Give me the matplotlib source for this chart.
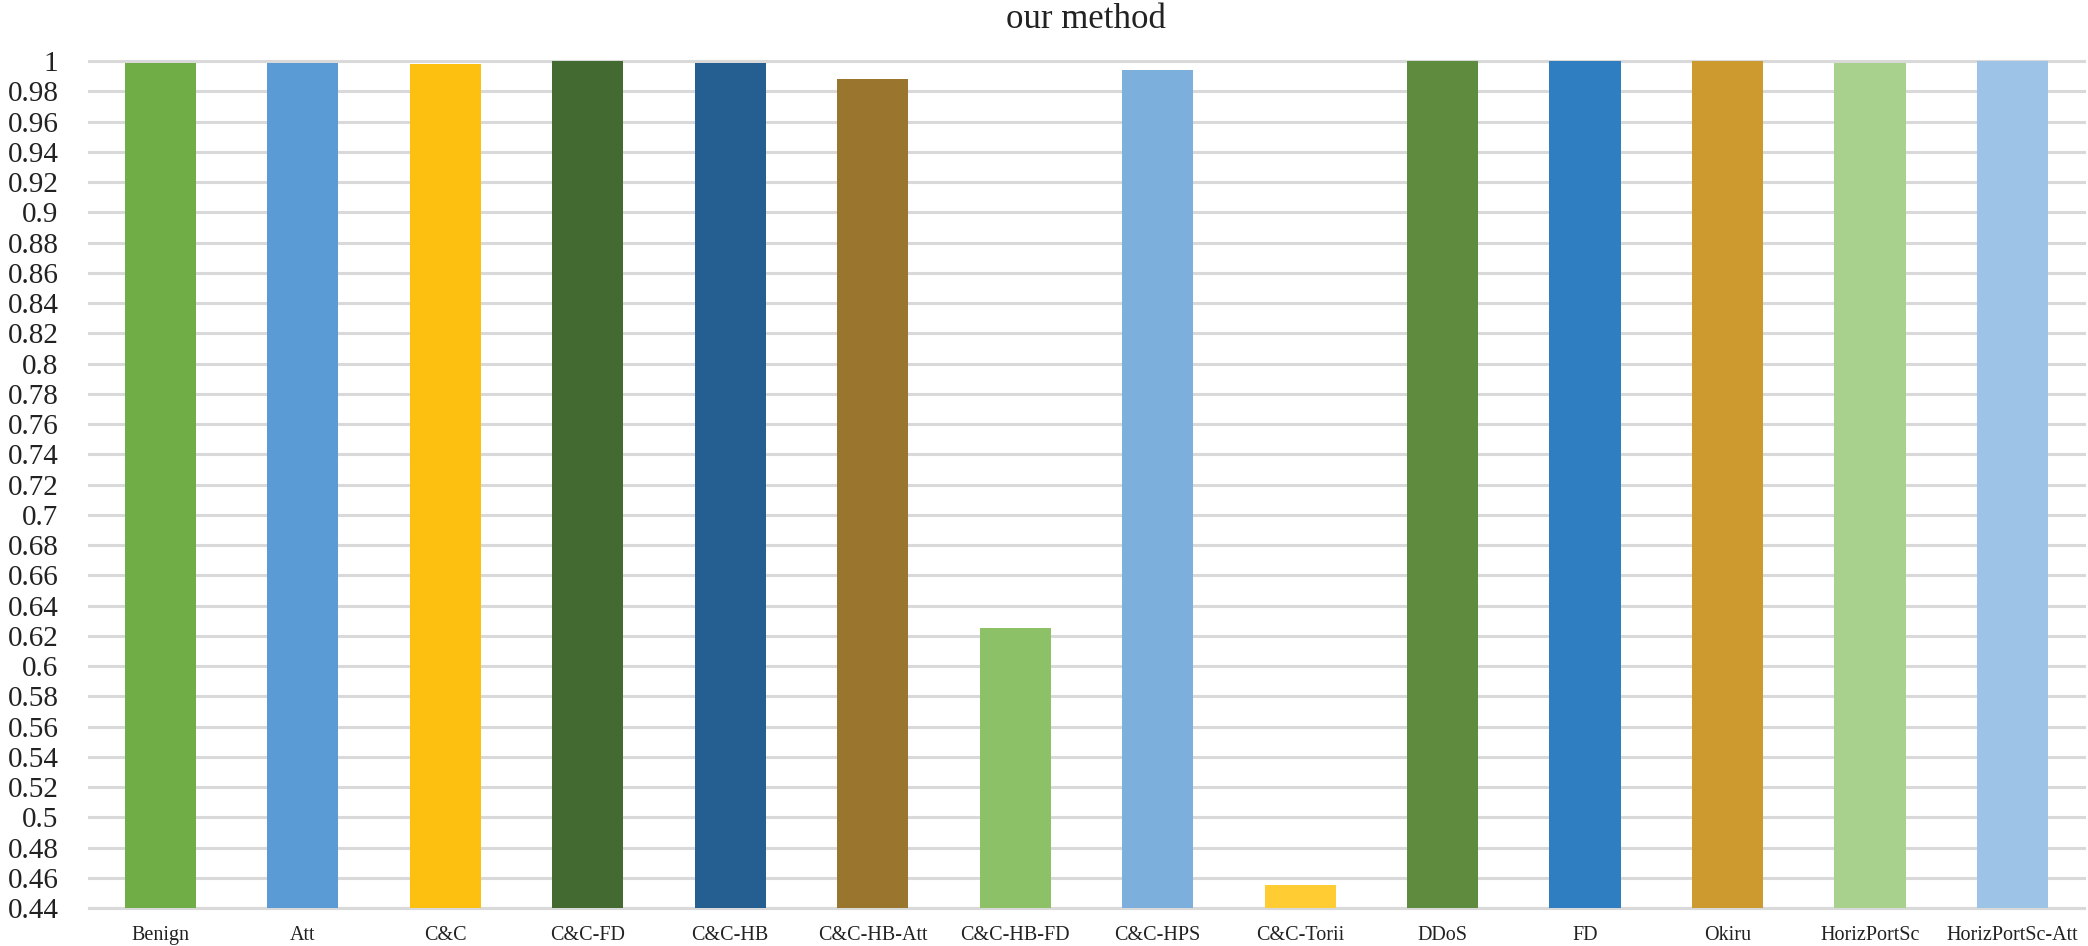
import matplotlib.pyplot as plt

categories = ["Benign", "Att", "C&C", "C&C-FD", "C&C-HB", "C&C-HB-Att", "C&C-HB-FD",
              "C&C-HPS", "C&C-Torii", "DDoS", "FD", "Okiru", "HorizPortSc", "HorizPortSc-Att"]
values = [0.999, 0.999, 0.998, 1.0, 0.999, 0.988, 0.625,
          0.994, 0.455, 1.0, 1.0, 1.0, 0.999, 1.0]
colors = ["#70AD47", "#5B9BD5", "#FDC011", "#436A31", "#255E91", "#99752E", "#8CC168",
          "#7DAFDD", "#FFCD33", "#5E8B3E", "#2E7EC1", "#CC9A2E", "#A9D18E", "#9DC3E6"]
yticks = [0.44 + 0.02 * i for i in range(29)]

plt.rcParams["font.family"] = ["Liberation Serif", "DejaVu Serif"]

fig = plt.figure(figsize=(20.88, 9.46), dpi=100)
ax = fig.add_axes([0.0426, 0.040, 0.9554, 0.8955])

x = range(len(categories))
ax.bar(x, values, width=0.5, color=colors, zorder=3)

ax.set_xlim(-0.5, len(categories) - 0.5)
ax.set_ylim(0.44, 1.0)
ax.set_yticks(yticks)
ax.set_yticklabels([f"{v:.2f}".rstrip("0").rstrip(".") for v in yticks], fontsize=21)
ax.set_xticks(list(x))
ax.set_xticklabels(categories, fontsize=14.5)
ax.tick_params(axis="y", length=0, pad=22, colors="#222222")
ax.tick_params(axis="x", length=0, pad=13, colors="#222222")

ax.grid(axis="y", color="#D9D9D9", linewidth=2.2, zorder=0)
for gl in ax.get_ygridlines():
    gl.set_clip_on(False)
ax.set_axisbelow(True)
for side in ["top", "right", "left"]:
    ax.spines[side].set_visible(False)
ax.spines["bottom"].set_color("#D9D9D9")
ax.spines["bottom"].set_linewidth(2.2)

ax.set_title("our method", fontsize=25, color="#222222", pad=24)

fig.savefig("out.png", dpi=100)
